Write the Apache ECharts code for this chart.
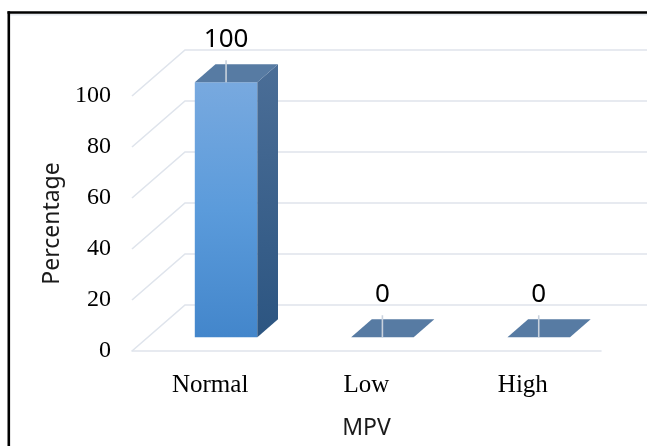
<!DOCTYPE html>
<html>
<head>
<meta charset="utf-8">
<title>MPV</title>
<script src="https://cdn.jsdelivr.net/npm/echarts@6/dist/echarts.min.js"></script>
<style>
  html, body { margin: 0; padding: 0; background: #fff; }
  #chart { width: 647px; height: 446px; }
</style>
</head>
<body>
<div id="chart"></div>
<script>
// MPV distribution (percentage of cases per category)
const categories = ['Normal', 'Low', 'High'];
const percentages = [100, 0, 0];
const yTicks = [0, 20, 40, 60, 80, 100];

// pseudo-3D depth vector of the back wall, and bar depth slots (fractions of it)
const DX = 53, DY = -46;
const T1 = 0.30, T2 = 0.69;
const GRID_COLOR = '#dfe4ec';

const chart = echarts.init(document.getElementById('chart'), null, { renderer: 'canvas' });

function renderGrid(params, api) {
  const v = api.value(1);
  const y = api.coord([0, v])[1];
  const cs = params.coordSys;
  const x0 = cs.x;
  return {
    type: 'polyline',
    shape: { points: [[x0, y], [x0 + DX, y + DY], [api.getWidth() + 5, y + DY]] },
    style: { stroke: GRID_COLOR, lineWidth: 1.6, fill: null },
    silent: true
  };
}

function renderBar(params, api) {
  const i = api.value(0);
  const v = api.value(1);
  const top = api.coord([i, v]);
  const base = api.coord([i, 0]);
  const bw = api.size([1, 0])[0] * 0.4;
  const TD = T2 - T1;
  const fx = top[0] - bw / 2 + DX * T1;
  const yt = top[1] + DY * T1;
  const yb = base[1] + DY * T1;
  const ox = DX * TD, oy = DY * TD;
  const children = [];
  if (yb - yt > 0.5) {
    children.push({
      type: 'rect',
      shape: { x: fx, y: yt, width: bw, height: yb - yt },
      style: {
        fill: {
          type: 'linear', x: 0, y: 0, x2: 0, y2: 1,
          colorStops: [
            { offset: 0, color: '#78a9df' },
            { offset: 0.5, color: '#5b9bdb' },
            { offset: 1, color: '#4386cb' }
          ]
        }
      }
    });
    children.push({
      type: 'polygon',
      shape: { points: [[fx + bw, yt], [fx + bw + ox, yt + oy], [fx + bw + ox, yb + oy], [fx + bw, yb]] },
      style: {
        fill: {
          type: 'linear', x: 0, y: 0, x2: 0, y2: 1,
          colorStops: [
            { offset: 0, color: '#4b6e97' },
            { offset: 1, color: '#2c5581' }
          ]
        }
      }
    });
  }
  children.push({
    type: 'polygon',
    shape: { points: [[fx, yt], [fx + bw, yt], [fx + bw + ox, yt + oy], [fx + ox, yt + oy]] },
    style: { fill: '#577ba3' }
  });
  const cx = fx + bw / 2;
  children.push({
    type: 'line',
    shape: { x1: cx, y1: yt + oy - 4, x2: cx, y2: yt },
    style: { stroke: '#c9d2dd', lineWidth: 1.6 }
  });
  children.push({
    type: 'text',
    x: cx,
    y: yt + oy - 25,
    style: {
      text: String(v),
      fill: '#000',
      font: '26px "Noto Sans"',
      align: 'center',
      verticalAlign: 'middle'
    }
  });
  return { type: 'group', children };
}

const option = {
  animation: false,
  backgroundColor: '#fff',
  grid: { left: 132, right: 46, top: 96, bottom: 95 },
  xAxis: {
    type: 'category',
    data: categories,
    name: 'MPV',
    nameLocation: 'middle',
    nameGap: 66,
    nameTextStyle: { fontFamily: 'Noto Sans', fontSize: 23, color: '#1a1a1a' },
    axisLine: { show: true, lineStyle: { color: GRID_COLOR, width: 1.6 } },
    axisTick: { show: false },
    axisLabel: { margin: 22, fontFamily: 'Liberation Serif', fontSize: 25, color: '#000' },
    splitLine: { show: false }
  },
  yAxis: {
    type: 'value',
    min: 0,
    max: 100,
    interval: 20,
    name: 'Percentage',
    nameLocation: 'middle',
    nameRotate: 90,
    nameGap: 68,
    nameTextStyle: { fontFamily: 'Noto Sans', fontSize: 23, color: '#1a1a1a' },
    axisLine: { show: false },
    axisTick: { show: false },
    axisLabel: {
      margin: 21, fontFamily: 'Liberation Serif', fontSize: 24, color: '#000',
      formatter: function (val) { return yTicks.indexOf(val) >= 0 ? String(val) : ''; }
    },
    splitLine: { show: false }
  },
  graphic: [
    { type: 'line', z: 100, shape: { x1: 10, y1: 14.8, x2: 647, y2: 14.8 }, style: { stroke: '#e6eaef', lineWidth: 1.5 } },
    { type: 'line', z: 101, shape: { x1: 7.5, y1: 12.5, x2: 647, y2: 12.5 }, style: { stroke: '#000', lineWidth: 2.6 } },
    { type: 'line', z: 101, shape: { x1: 8.8, y1: 11.2, x2: 8.8, y2: 446 }, style: { stroke: '#000', lineWidth: 2.6 } }
  ],
  series: [
    {
      type: 'custom',
      name: 'grid',
      renderItem: renderGrid,
      data: yTicks.map(function (v) { return [0, v]; }),
      z: 1,
      silent: true
    },
    {
      type: 'custom',
      name: 'Percentage',
      renderItem: renderBar,
      data: percentages.map(function (v, i) { return [i, v]; }),
      z: 2
    }
  ]
};

chart.setOption(option);
</script>
</body>
</html>
